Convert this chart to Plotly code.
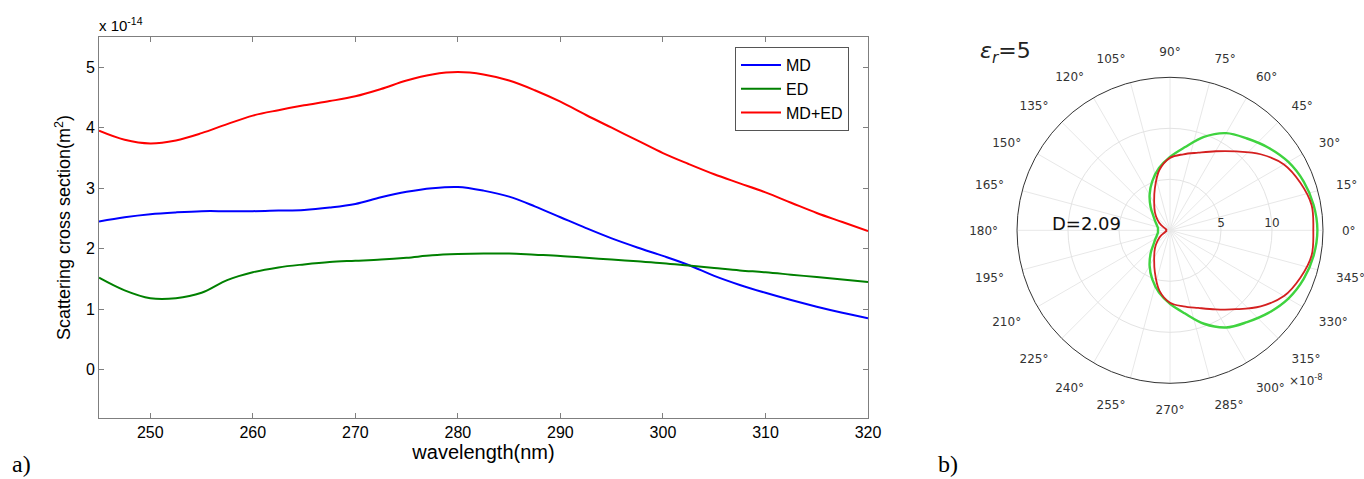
import plotly.graph_objects as go

# ---------------- data: panel a) (values in units of 1e-14 m^2) ----------------
wavelength = [245, 247.5, 250, 252.5, 255, 257.5, 260, 262.5, 265, 267.5, 270, 272.5,
              275, 277.5, 280, 282.5, 285, 287.5, 290, 292.5, 295, 297.5, 300, 302.5,
              305, 307.5, 310, 312.5, 315, 317.5, 320]
md = [2.45, 2.52, 2.57, 2.60, 2.62, 2.62, 2.62, 2.63, 2.64, 2.68, 2.74, 2.85,
      2.94, 3.00, 3.02, 2.96, 2.86, 2.70, 2.52, 2.34, 2.17, 2.02, 1.88, 1.73,
      1.55, 1.40, 1.27, 1.15, 1.04, 0.94, 0.85]
ed = [1.52, 1.31, 1.18, 1.18, 1.27, 1.48, 1.61, 1.69, 1.74, 1.78, 1.80, 1.82,
      1.85, 1.89, 1.91, 1.92, 1.92, 1.90, 1.88, 1.85, 1.82, 1.79, 1.76, 1.72,
      1.68, 1.64, 1.61, 1.57, 1.53, 1.49, 1.45]
md_ed = [3.95, 3.80, 3.74, 3.79, 3.91, 4.06, 4.20, 4.29, 4.37, 4.44, 4.52, 4.64,
         4.78, 4.88, 4.92, 4.88, 4.78, 4.62, 4.43, 4.21, 4.00, 3.79, 3.58, 3.40,
         3.23, 3.08, 2.93, 2.76, 2.59, 2.44, 2.29]
x_ticks = [250, 260, 270, 280, 290, 300, 310, 320]
y_ticks = [0, 1, 2, 3, 4, 5]

# ---------------- data: panel b) (radial values in units of 1e-8) ----------------
theta_deg = [0, 10, 20, 30, 40, 50, 60, 70, 80, 90, 100, 110, 120, 130, 140, 150, 160, 170, 180,
             190, 200, 210, 220, 230, 240, 250, 260, 270, 280, 290, 300, 310, 320, 330, 340, 350, 360]
r_green = [14.45, 14.3, 13.95, 13.4, 12.6, 11.75, 11.0, 9.75, 8.26, 7.2, 6.2, 5.1, 4.0, 2.95, 2.1, 1.65, 1.35, 1.2, 1.18,
           1.2, 1.35, 1.65, 2.1, 2.95, 4.0, 5.1, 6.2, 7.2, 8.26, 9.75, 11.0, 11.75, 12.6, 13.4, 13.95, 14.3, 14.45]
r_red = [14.05, 14.1, 13.6, 12.9, 11.6, 10.1, 8.95, 8.1, 7.57, 7.1, 6.0, 4.35, 3.1, 2.3, 1.6, 1.0, 0.5, 0.35, 0.4,
         0.35, 0.5, 1.0, 1.6, 2.3, 3.1, 4.35, 6.0, 7.1, 7.57, 8.1, 8.95, 10.1, 11.6, 12.9, 13.6, 14.1, 14.05]
r_ticks = [5, 10]

W, H = 1364, 479


def px_x(p):
    return p / W


def px_y(p):
    return 1 - p / H


SANS = "Liberation Sans, Arial, sans-serif"
DJV = "DejaVu Sans, sans-serif"
AXC = "#7f7f7f"

fig = go.Figure()
fig.add_trace(go.Scatter(x=wavelength, y=md, name="MD", mode="lines",
                         line=dict(color="#0000ff", width=2, shape="spline")))
fig.add_trace(go.Scatter(x=wavelength, y=ed, name="ED", mode="lines",
                         line=dict(color="#008000", width=2, shape="spline")))
fig.add_trace(go.Scatter(x=wavelength, y=md_ed, name="MD+ED", mode="lines",
                         line=dict(color="#ff0000", width=2, shape="spline")))

fig.add_trace(go.Scatterpolar(r=r_green, theta=theta_deg, mode="lines", showlegend=False,
                              line=dict(color="#3fd33f", width=2.4, shape="spline")))
fig.add_trace(go.Scatterpolar(r=r_red, theta=theta_deg, mode="lines", showlegend=False,
                              line=dict(color="#d42020", width=1.8, shape="spline")))

fig.update_layout(
    width=W, height=H,
    margin=dict(l=0, r=0, t=0, b=0, autoexpand=False),
    paper_bgcolor="white", plot_bgcolor="white",
    font=dict(family=SANS, size=16, color="#000"),
    xaxis=dict(domain=[px_x(99), px_x(868)], range=[245, 320], tickvals=x_ticks,
               automargin=False,
               showgrid=False, zeroline=False, showline=True, linecolor=AXC, linewidth=1,
               mirror="ticks", ticks="inside", ticklen=5, tickcolor=AXC,
               tickfont=dict(family=SANS, size=16, color="#000"),
               title=dict(text="wavelength(nm)", font=dict(family=SANS, size=20), standoff=4)),
    yaxis=dict(domain=[px_y(418), px_y(37)], range=[-0.8, 5.5], tickvals=y_ticks,
               automargin=False,
               showgrid=False, zeroline=False, showline=True, linecolor=AXC, linewidth=1,
               mirror="ticks", ticks="inside", ticklen=5, tickcolor=AXC,
               tickfont=dict(family=SANS, size=16, color="#000"),
               title=dict(text="Scattering cross section(m<sup>2</sup>)",
                          font=dict(family=SANS, size=18), standoff=10)),
    legend=dict(x=px_x(735), y=px_y(47), xanchor="left", yanchor="top",
                bgcolor="white", bordercolor="#555", borderwidth=1,
                font=dict(family=SANS, size=16, color="#000"),
                itemwidth=40, tracegroupgap=0),
    polar=dict(
        domain=dict(x=[px_x(1017), px_x(1323)], y=[px_y(383.3), px_y(77.3)]),
        bgcolor="white",
        angularaxis=dict(rotation=0, direction="counterclockwise", dtick=15,
                         ticksuffix="°", showline=True, linecolor="#333", linewidth=1,
                         gridcolor="#e8e8e8", gridwidth=1,
                         ticks="outside", ticklen=16, tickcolor="rgba(0,0,0,0)",
                         tickfont=dict(family=DJV, size=12, color="#333")),
        radialaxis=dict(range=[0, 15], tickvals=r_ticks, showline=False, angle=0,
                        side="counterclockwise", ticks="",
                        gridcolor="#e3e3e3", gridwidth=1,
                        tickfont=dict(family=DJV, size=12, color="#333")),
    ),
)

annotations = [
    dict(text="x 10<sup>-14</sup>", x=px_x(97), y=px_y(24), xanchor="left", yanchor="middle",
         font=dict(family=SANS, size=15, color="#000")),
    dict(text="a)", x=px_x(10), y=px_y(464), xanchor="left", yanchor="middle",
         font=dict(family="Liberation Serif, Times New Roman, serif", size=24, color="#000")),
    dict(text="b)", x=px_x(936), y=px_y(464), xanchor="left", yanchor="middle",
         font=dict(family="Liberation Serif, Times New Roman, serif", size=24, color="#000")),
    dict(text="<i>ε</i><sub><i>r</i></sub>=5", x=px_x(978), y=px_y(52), xanchor="left", yanchor="middle",
         font=dict(family=DJV, size=22, color="#222")),
    dict(text="D=2.09", x=px_x(1086), y=px_y(223), xanchor="center", yanchor="middle",
         font=dict(family=DJV, size=18, color="#111")),
    dict(text="×10<sup>-8</sup>", x=px_x(1306), y=px_y(380), xanchor="center", yanchor="middle",
         font=dict(family=DJV, size=12, color="#333")),
]
for a in annotations:
    a.update(xref="paper", yref="paper", showarrow=False)
fig.update_layout(annotations=annotations)

fig.write_html("out.html")
